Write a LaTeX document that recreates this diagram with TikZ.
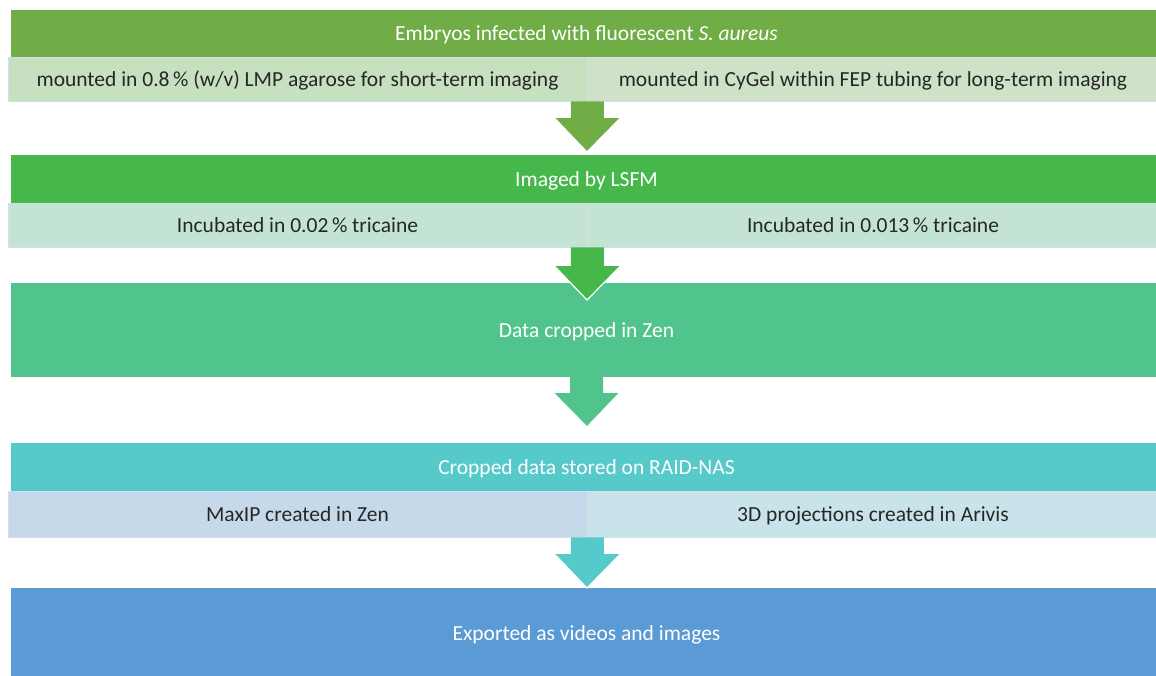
\documentclass[tikz,border=0pt]{standalone}
\usepackage{fontspec}
\setmainfont{Carlito}
\usetikzlibrary{calc}

\definecolor{bandA}{HTML}{70AD47}
\definecolor{bandB}{HTML}{46B84B}
\definecolor{bandC}{HTML}{51C48D}
\definecolor{bandD}{HTML}{56C9CA}
\definecolor{bandE}{HTML}{5B9BD5}
\definecolor{cellAL}{HTML}{C7E0BF}
\definecolor{cellAR}{HTML}{CFE2C7}
\definecolor{cellB}{HTML}{C3E4D3}
\definecolor{cellDL}{HTML}{C6D9EA}
\definecolor{cellDR}{HTML}{C8E3E9}
\definecolor{cellline}{HTML}{D5DFEC}
\definecolor{celltext}{HTML}{262626}

% block arrow: #1 colour, #2 top centre, #3 tip
\newcommand\flowarrow[3]{%
  \path[fill=#1] let \p1=(#2), \p2=(#3) in
    (\x1-16.5pt,\y1) -- (\x1+16.5pt,\y1) -- (\x1+16.5pt,\y2+34pt)
    -- (\x1+33pt,\y2+34pt) -- (\x2,\y2) -- (\x1-33pt,\y2+34pt)
    -- (\x1-16.5pt,\y2+34pt) -- cycle;
  \draw[white, line width=1.2pt, line join=miter] let \p1=(#2), \p2=(#3) in
    (\x1-33pt,\y2+34pt) -- (\x2,\y2) -- (\x1+33pt,\y2+34pt);
}

\begin{document}
\begin{tikzpicture}[x=1pt, y=-1pt,
  txt/.style={font=\fontsize{21.5}{26}\selectfont, text height=16pt, text depth=1.5pt},
  band/.style={rectangle, inner sep=0pt, minimum width=1151pt, text=white, txt},
  cell/.style={rectangle, inner sep=0pt, draw=cellline, line width=0.8pt,
    text=celltext, txt},
  leftcell/.style={cell, minimum width=579pt},
  rightcell/.style={cell, minimum width=572pt}]

\useasboundingbox (0,0) rectangle (1156,675);
\clip (0,0) rectangle (1156,675);
\fill[white] (0,0) rectangle (1156,675);

% stage 1: infection and mounting
\node[band, fill=bandA, minimum height=47pt] (b1) at (586.5,33.5)
  {Embryos infected with fluorescent \textit{S. aureus}};
\node[leftcell, fill=cellAL, minimum height=44pt] (s1l) at (297.5,79)
  {mounted in 0.8\,\% (w/v) LMP agarose for short-term imaging};
\node[rightcell, fill=cellAR, minimum height=44pt] (s1r) at (873,79)
  {mounted in CyGel within FEP tubing for long-term imaging};

% stage 2: imaging
\node[band, fill=bandB, minimum height=48pt] (b2) at (586.5,179) {Imaged by LSFM};
\node[leftcell, fill=cellB, minimum height=44pt] (s2l) at (297.5,225)
  {Incubated in 0.02\,\% tricaine};
\node[rightcell, fill=cellB, minimum height=44pt] (s2r) at (873,225)
  {Incubated in 0.013\,\% tricaine};

% stage 3: cropping
\node[band, fill=bandC, minimum height=94pt] (b3) at (586.5,330) {Data cropped in Zen};

% stage 4: storage and projections
\node[band, fill=bandD, minimum height=48pt] (b4) at (586.5,467)
  {Cropped data stored on RAID-NAS};
\node[leftcell, fill=cellDL, minimum height=46pt] (s4l) at (297.5,514)
  {MaxIP created in Zen};
\node[rightcell, fill=cellDR, minimum height=46pt] (s4r) at (873,514)
  {3D projections created in Arivis};

% stage 5: export
\node[band, fill=bandE, minimum height=90pt] (b5) at (586.5,633)
  {Exported as videos and images};

% arrow tips
\coordinate (t1) at (587,152);
\coordinate (t2) at (587,300);
\coordinate (t3) at (587,427);
\coordinate (t4) at (587,588);

\flowarrow{bandA}{s1l.south east}{t1}
\flowarrow{bandB}{s2l.south east}{t2}
\flowarrow{bandC}{b3.south}{t3}
\flowarrow{bandD}{s4l.south east}{t4}
\end{tikzpicture}
\end{document}
